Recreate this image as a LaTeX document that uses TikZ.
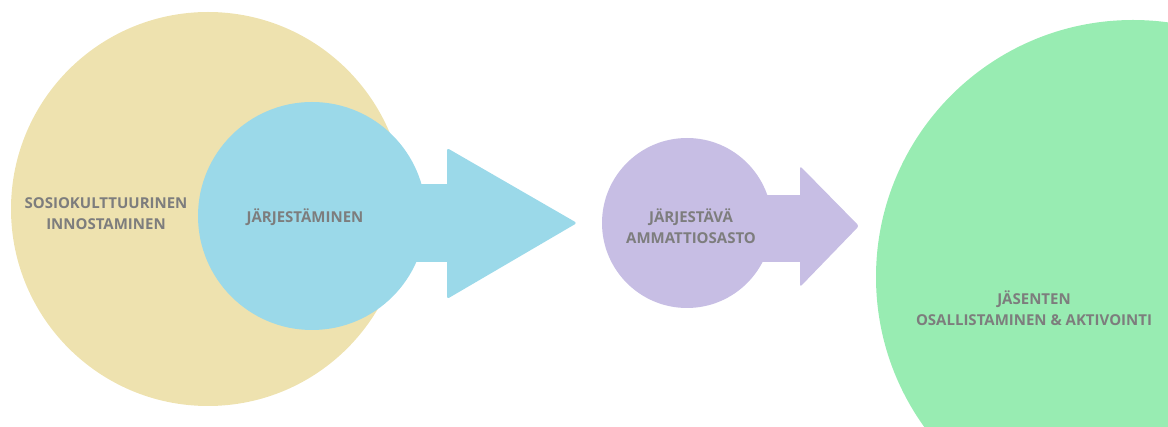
\documentclass[tikz,border=0pt]{standalone}
\usepackage{fontspec}
\setmainfont{Open Sans}
\definecolor{yelc}{RGB}{238,226,175}
\definecolor{bluc}{RGB}{155,217,233}
\definecolor{purc}{RGB}{199,190,228}
\definecolor{grnc}{RGB}{152,236,178}
\definecolor{txtc}{RGB}{125,125,125}
\begin{document}
\begin{tikzpicture}[x=1pt,y=-1pt,
  disc/.style={circle,inner sep=0pt,draw=none},
  lbl/.style={text=txtc,font=\bfseries\fontsize{15}{21}\selectfont,align=center,inner sep=0pt}]
\useasboundingbox (0,0) rectangle (1168,427);
\clip (0,0) rectangle (1168,427);
% yellow circle
\node[disc,fill=yelc,minimum size=394pt] (soc) at (208,209) {};
% blue arrow
\coordinate (btip) at (577,223);
\fill[bluc] (380,184) rectangle (449,262);
\fill[bluc,rounded corners=2.5pt] (447,148) -- (btip) -- (447,299) -- cycle;
% blue circle
\node[disc,fill=bluc,minimum size=228pt] (jarj) at (312,216) {};
% purple arrow
\coordinate (ptip) at (859,226);
\fill[purc] (740,195) rectangle (802,262);
\fill[purc,rounded corners=2.5pt] (800,166) -- (ptip) -- (800,287) -- cycle;
% purple circle
\node[disc,fill=purc,minimum size=170pt] (amm) at (687,223) {};
% green circle
\node[disc,fill=grnc,minimum size=514pt] (jas) at (1133,277) {};
% labels
\node[lbl] (t1) at (106,214) {SOSIOKULTTUURINEN\\INNOSTAMINEN};
\node[lbl] (t2) at (305,217) {JÄRJESTÄMINEN};
\node[lbl] (t3) at (691,226) {JÄRJESTÄVÄ\\AMMATTIOSASTO};
\node[lbl] (t4) at (1034,308) {JÄSENTEN\\OSALLISTAMINEN \& AKTIVOINTI};
\end{tikzpicture}
\end{document}
